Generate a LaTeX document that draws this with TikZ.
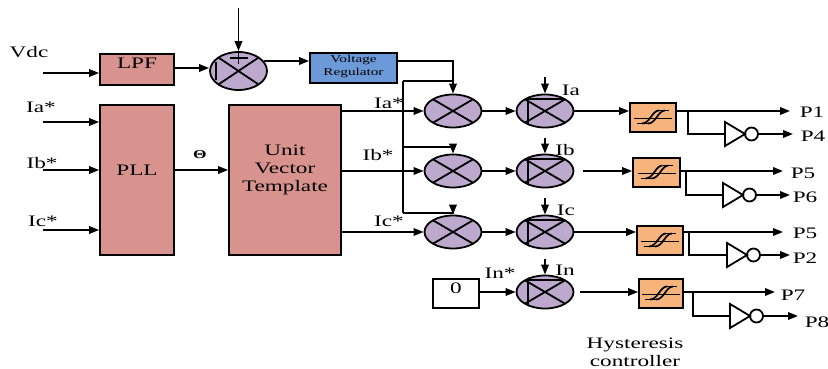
\documentclass[tikz,border=0pt]{standalone}
\usepackage{fontspec}
\setmainfont{Liberation Serif}[FakeStretch=1.45]
\usetikzlibrary{arrows.meta,shapes.geometric}
\definecolor{pinkc}{HTML}{D9938E}
\definecolor{bluec}{HTML}{6C9AD8}
\definecolor{lavc}{HTML}{BCA9CD}
\definecolor{orc}{HTML}{F7B37C}
\begin{document}
\begin{tikzpicture}[x=1pt,y=-1pt,
 every node/.style={font=\fontsize{16}{18}\selectfont, inner sep=0pt},
 ln/.style={line width=1.8pt},
 arr/.style={line width=1.8pt,-{Triangle[length=10pt,width=7.5pt]}},
 blk/.style={draw,line width=1.8pt,rectangle,inner sep=0pt},
 mult/.style={draw,line width=1.8pt,ellipse,fill=lavc,minimum width=57,minimum height=33,inner sep=0pt},
 inv/.pic={\draw[ln,line join=miter] (0,-12) -- (20,0) -- (0,12) -- cycle;
           \draw[ln] (26.5,0) circle[radius=6.5];
           \coordinate (-in) at (0,0); \coordinate (-out) at (33,0);},
 hys/.pic={\draw[line width=1.5pt] (-19,1) -- (19,1);
           \draw[line width=1.7pt] (-16,6) -- (-5,6);
           \draw[line width=1.7pt] (6,-7) -- (16,-7);
           \draw[line width=1.7pt] (-11,6) .. controls (-3,6) and (-1,-7) .. (6,-7);
           \draw[line width=1.7pt] (-5,6) .. controls (3,6) and (5,-7) .. (12,-7);},
 mx/.pic={\draw[ln] (-20,-11.7) -- (20,11.7); \draw[ln] (20,-11.7) -- (-20,11.7);},
 mb/.pic={\draw[ln] (-17,13.5) -- (-17,-11.7) -- (20,-11.7);},
]
\useasboundingbox (0,0) rectangle (828,369);

% ---------- DC voltage loop ----------
\node (vdc) at (29,52) {Vdc};
\coordinate (vdcin) at (43,73);
\node[blk,fill=pinkc,minimum width=74,minimum height=31] (lpf) at (137,69.5) {};
\node (lpft) at (137,63) {LPF};
\draw[arr] (vdcin) -- (lpf.west |- vdcin);

\node[mult,minimum width=57,minimum height=38] (sum) at (238.5,71) {};
\draw[ln] ([shift={(-20,-13.4)}]sum.center) -- ([shift={(20,13.4)}]sum.center);
\draw[ln] ([shift={(20,-13.4)}]sum.center) -- ([shift={(-20,13.4)}]sum.center);
\draw[ln] ([shift={(-9,-13)}]sum.center) -- ([shift={(9,-13)}]sum.center);
\draw[ln] ([shift={(0,-19)}]sum.center) -- ([shift={(0,-7)}]sum.center);
\draw[ln] ([shift={(-22.5,-9)}]sum.center) -- ([shift={(-22.5,9)}]sum.center);
\coordinate (ref) at (238.5,8);
\draw[arr] (ref) -- (sum.north);
\draw[arr] (lpf.east |- 0,68) -- (sum.west |- 0,68);

\node[blk,fill=bluec,minimum width=87,minimum height=30] (vr) at (353.5,68) {};
\node[font=\fontsize{10.5}{13}\selectfont,align=center] (vrt) at (353.5,66) {Voltage\\Regulator};
\draw[arr] ([xshift=-4]sum.east |- 0,61) -- (vr.west |- 0,61);

% ---------- PLL and unit vector template ----------
\node[blk,fill=pinkc,minimum width=74,minimum height=150] (pll) at (137,180) {};
\node (pllt) at (137,170) {PLL};
\node[blk,fill=pinkc,minimum width=112,minimum height=150] (uvt) at (285,180) {};
\node[align=center] (uvtt) at (285,170) {Unit\\Vector\\Template};

\node (lia) at (41,107) {Ia*};
\node (lib) at (42,163) {Ib*};
\node (lic) at (43,221) {Ic*};
\coordinate (ina) at (43,122);
\coordinate (inb) at (43,170);
\coordinate (inc) at (43,230);
\draw[arr] (ina) -- (pll.west |- ina);
\draw[arr] (inb) -- (pll.west |- inb);
\draw[arr] (inc) -- (pll.west |- inc);
\node[font=\fontsize{12}{14}\selectfont\bfseries] (theta) at (200,155) {Θ};
\draw[arr] (pll.east |- 0,170) -- (uvt.west |- 0,170);

% ---------- multipliers ----------
\node[mult] (m1a) at (453,111) {};
\node[mult] (m1b) at (453,171) {};
\node[mult] (m1c) at (453,232) {};
\pic at (m1a) {mx}; \pic at (m1b) {mx}; \pic at (m1c) {mx};

\node[mult] (m2a) at (545,111) {};
\node[mult] (m2b) at (545,171) {};
\node[mult] (m2c) at (545,232) {};
\node[mult] (m2d) at (545,292) {};
\foreach \m in {m2a,m2b,m2c,m2d}{\pic at (\m) {mx}; \pic at (\m) {mb};}

\draw[arr] (uvt.east |- m1a) -- (m1a.west);
\draw[arr] (uvt.east |- m1b) -- (m1b.west);
\draw[arr] (uvt.east |- m1c) -- (m1c.west);
\node (ra) at (389,103) {Ia*};
\node (rb) at (378,155) {Ib*};
\node (rc) at (389,221) {Ic*};

\draw[arr] (vr.east |- 0,61) -| (m1a.north);
\coordinate (bt) at (403,81);
\coordinate (bj) at (453,81);
\coordinate (b2) at (403,147);
\coordinate (bb) at (403,213);
\draw[ln] (bt) -- (bj);
\draw[ln] (bt) -- (bb);
\draw[arr] (b2) -| (m1b.north);
\draw[arr] (bb) -| (m1c.north);

\draw[arr] (m1a) -- (m2a);
\draw[arr] (m1b) -- (m2b);
\draw[arr] (m1c) -- (m2c);

\node[blk,minimum width=46,minimum height=29] (zero) at (456,293.5) {};
\node (zt) at (456,288) {0};
\draw[arr] (zero.east |- m2d) -- (m2d.west);
\node (lin) at (500,273) {In*};

\coordinate (iaa) at (545,77);
\coordinate (ibb) at (545,138);
\coordinate (icc) at (545,198);
\coordinate (inn) at (545,259);
\draw[arr] (iaa) -- (m2a.north);
\draw[arr] (ibb) -- (m2b.north);
\draw[arr] (icc) -- (m2c.north);
\draw[arr] (inn) -- (m2d.north);
\node (la) at (571,90) {Ia};
\node (lb) at (565,150) {Ib};
\node (lc) at (566,210) {Ic};
\node (ln4) at (565,270) {In};

% ---------- hysteresis controllers ----------
\node[blk,fill=orc,minimum width=46,minimum height=29] (h1) at (653,117.5) {};
\node[blk,fill=orc,minimum width=47,minimum height=29] (h2) at (656.5,172.5) {};
\node[blk,fill=orc,minimum width=46,minimum height=29] (h3) at (660,240.5) {};
\node[blk,fill=orc,minimum width=44,minimum height=29] (h4) at (661,293.5) {};
\pic at (h1) {hys}; \pic at (h2) {hys}; \pic at (h3) {hys}; \pic at (h4) {hys};

\draw[arr] (m2a.east) -- (h1.west |- m2a.east);
\draw[arr] ([xshift=9]m2b.east) -- (h2.west |- m2b);
\draw[arr] (m2c.east) -- (h3.west |- m2c);
\draw[arr] ([xshift=6]m2d.east) -- (h4.west |- m2d);

% row 1
\coordinate (o1) at (790,111);
\draw[arr] (h1.east |- o1) -- (o1);
\node (p1) at (812,112) {P1};
\coordinate (s1) at (688,111);
\pic (i1) at (725,134) {inv};
\draw[ln] (s1) |- (i1-in);
\coordinate (o4) at (793,134);
\draw[arr] (i1-out) -- (o4);
\node (p4) at (813,136) {P4};
% row 2
\coordinate (o2) at (783,171);
\draw[arr] (h2.east |- o2) -- (o2);
\node (p5a) at (803,173) {P5};
\coordinate (s2) at (686,171);
\pic (i2) at (723,195) {inv};
\draw[ln] (s2) |- (i2-in);
\coordinate (o6) at (790,195);
\draw[arr] (i2-out) -- (o6);
\node (p6) at (805,197) {P6};
% row 3
\coordinate (o3) at (783,232);
\draw[arr] (h3.east |- o3) -- (o3);
\node (p5b) at (805,233) {P5};
\coordinate (s3) at (689,232);
\pic (i3) at (727,255) {inv};
\draw[ln] (s3) |- (i3-in);
\coordinate (o32) at (790,255);
\draw[arr] (i3-out) -- (o32);
\node (p2) at (805,258) {P2};
% row 4
\coordinate (o7) at (775,292);
\draw[arr] (h4.east |- o7) -- (o7);
\node (p7) at (793,295) {P7};
\coordinate (s4) at (693,292);
\pic (i4) at (730,316) {inv};
\draw[ln] (s4) |- (i4-in);
\coordinate (o8) at (798,316);
\draw[arr] (i4-out) -- (o8);
\node (p8) at (817,322) {P8};

\node[align=center] (hc) at (635,352) {Hysteresis\\controller};
\end{tikzpicture}
\end{document}
